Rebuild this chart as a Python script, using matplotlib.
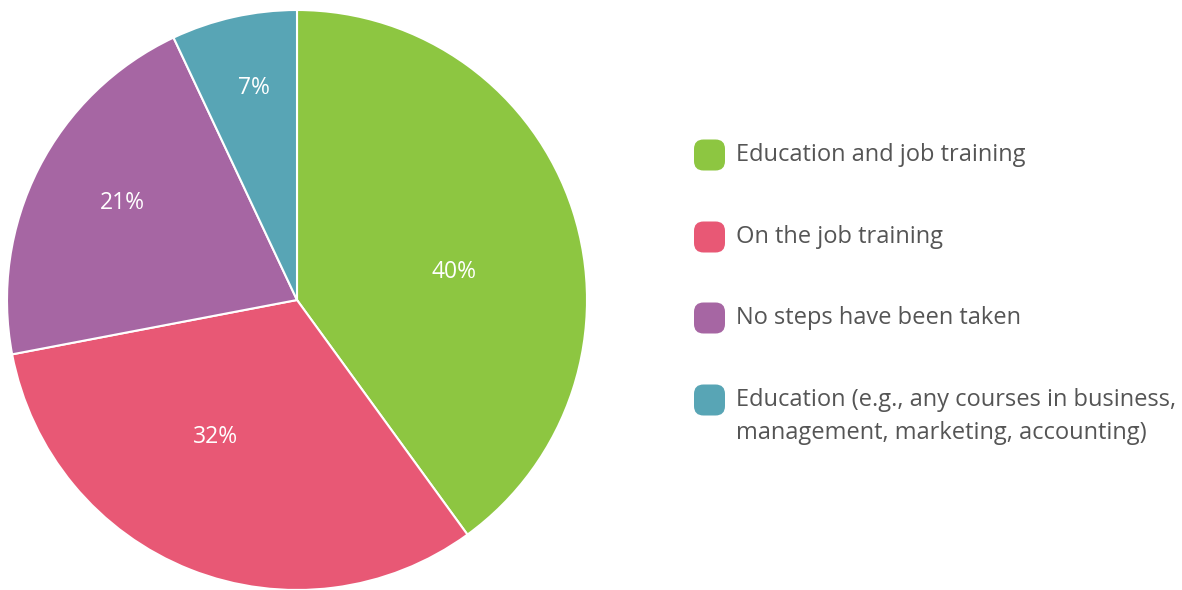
import numpy as np
import matplotlib.pyplot as plt
from matplotlib.patches import FancyBboxPatch

labels = [
    "Education and job training",
    "On the job training",
    "No steps have been taken",
    "Education (e.g., any courses in business,\nmanagement, marketing, accounting)",
]
shares = [40, 32, 21, 7]
colors = ["#8dc641", "#e85875", "#a666a3", "#58a5b5"]

W, H = 1182, 590
fig = plt.figure(figsize=(W / 100, H / 100), dpi=100)

# pie occupies the left part of the canvas
ax = fig.add_axes([7 / W, 0, 580 / W, 580 / H])
wedges, texts, autotexts = ax.pie(
    shares, colors=colors, startangle=90, counterclock=False,
    autopct="%d%%", pctdistance=0.6, radius=1,
    wedgeprops=dict(edgecolor="white", linewidth=1.5),
    textprops=dict(color="white", fontsize=16.5, family="Open Sans"),
)
# per-slice label placement: distance from centre and angular nudge
label_r = [0.55, 0.55, 0.69, 0.745]
label_shift = [-8, -9, -2, -1]
for t, w, r, d in zip(autotexts, wedges, label_r, label_shift):
    ang = np.deg2rad((w.theta1 + w.theta2) / 2 + d)
    t.set_position((r * np.cos(ang), r * np.sin(ang)))
ax.set_xlim(-1, 1)
ax.set_ylim(-1, 1)
ax.set_aspect("equal")
ax.axis("off")

# legend on the right
row_y = [155, 237, 318, 400]
size = 31
for lab, col, y in zip(labels, colors, row_y):
    box = FancyBboxPatch((694 / W, (H - y - size / 2) / H), size / W, size / H,
                         boxstyle="round,pad=0,rounding_size=0.008",
                         transform=fig.transFigure, facecolor=col, edgecolor="none",
                         mutation_aspect=W / H)
    fig.patches.append(box)
    for i, line in enumerate(lab.split("\n")):
        fig.text(736 / W, (H - y - 33 * i) / H, line, fontsize=17,
                 color="#555555", family="Open Sans", va="center")

fig.savefig("out.png", dpi=100)
